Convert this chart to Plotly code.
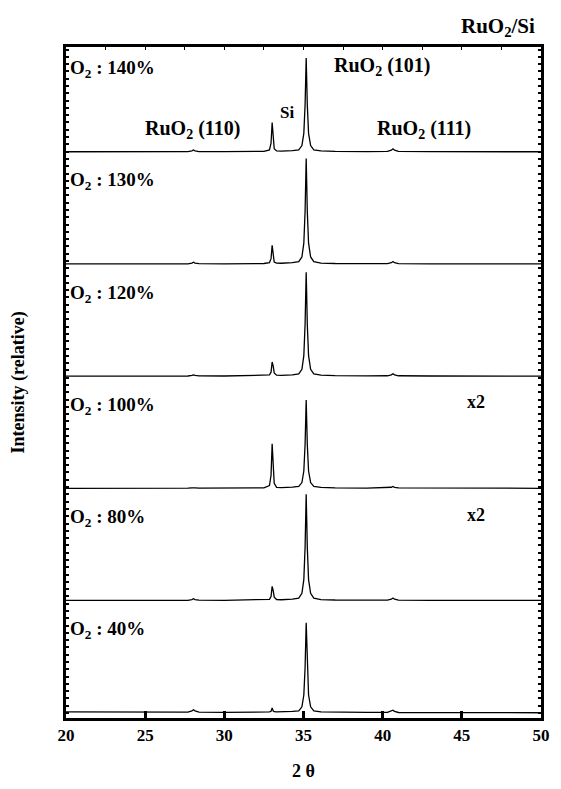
import plotly.graph_objects as go

# 2-theta sample points (shared by all patterns)
two_theta = [20.0, 22.0, 24.0, 26.0, 27.7, 27.95, 28.05, 28.15, 28.4, 30.0,
             32.5, 32.85, 32.95, 33.02, 33.09, 33.15, 33.3, 33.6, 34.3,
             34.7, 34.9, 35.02, 35.1, 35.17, 35.24, 35.32, 35.45, 35.65,
             36.1, 37.0, 39.0, 40.3, 40.55, 40.65, 40.75, 41.0, 43.0, 46.0, 48.0, 50.0]

labels = ["140%", "130%", "120%", "100%", "80%", "40%"]

int_140 = [0.004, 0.003, 0.004, 0.004, 0.005, 0.012, 0.020, 0.012, 0.006, 0.005,
           0.008, 0.021, 0.080, 0.265, 0.093, 0.032, 0.012, 0.010, 0.015,
           0.021, 0.059, 0.168, 0.420, 0.840, 0.420, 0.168, 0.059, 0.021,
           0.012, 0.008, 0.006, 0.007, 0.018, 0.030, 0.018, 0.007, 0.005, 0.004, 0.004, 0.004]
int_130 = [0.004, 0.003, 0.004, 0.004, 0.005, 0.012, 0.020, 0.012, 0.006, 0.005,
           0.008, 0.016, 0.051, 0.170, 0.060, 0.020, 0.012, 0.010, 0.015,
           0.024, 0.066, 0.189, 0.472, 0.944, 0.472, 0.189, 0.066, 0.024,
           0.012, 0.008, 0.006, 0.007, 0.015, 0.025, 0.015, 0.007, 0.005, 0.004, 0.004, 0.004]
int_120 = [0.004, 0.003, 0.004, 0.004, 0.005, 0.010, 0.015, 0.010, 0.006, 0.005,
           0.008, 0.014, 0.039, 0.130, 0.090, 0.033, 0.012, 0.010, 0.015,
           0.023, 0.065, 0.186, 0.465, 0.930, 0.465, 0.186, 0.065, 0.023,
           0.012, 0.008, 0.006, 0.007, 0.015, 0.025, 0.015, 0.007, 0.005, 0.004, 0.004, 0.004]
int_100 = [0.004, 0.003, 0.004, 0.004, 0.005, 0.008, 0.010, 0.008, 0.006, 0.005,
           0.008, 0.028, 0.120, 0.400, 0.140, 0.048, 0.012, 0.010, 0.015,
           0.020, 0.055, 0.158, 0.395, 0.790, 0.395, 0.158, 0.055, 0.020,
           0.012, 0.008, 0.006, 0.007, 0.013, 0.020, 0.013, 0.007, 0.005, 0.004, 0.004, 0.004]
int_80 = [0.004, 0.003, 0.004, 0.004, 0.005, 0.012, 0.020, 0.012, 0.006, 0.005,
          0.008, 0.014, 0.039, 0.130, 0.090, 0.033, 0.012, 0.010, 0.015,
          0.024, 0.067, 0.190, 0.475, 0.950, 0.475, 0.190, 0.067, 0.024,
          0.012, 0.008, 0.006, 0.007, 0.015, 0.025, 0.015, 0.007, 0.005, 0.004, 0.004, 0.004]
int_40 = [0.010, 0.009, 0.008, 0.008, 0.008, 0.020, 0.030, 0.020, 0.008, 0.007,
          0.008, 0.010, 0.016, 0.045, 0.018, 0.012, 0.010, 0.010, 0.015,
          0.020, 0.056, 0.161, 0.403, 0.805, 0.403, 0.161, 0.056, 0.020,
          0.010, 0.007, 0.006, 0.006, 0.015, 0.025, 0.015, 0.005, 0.004, 0.003, 0.003, 0.003]

series = [int_140, int_130, int_120, int_100, int_80, int_40]
scaled = ["", "", "", "x2", "x2", ""]

x_ticks = [20, 25, 30, 35, 40, 45, 50]

FONT = "Liberation Serif, Times New Roman, serif"

fig = go.Figure()
n = len(series)
for i, (lab, ys) in enumerate(zip(labels, series)):
    off = n - 1 - i
    fig.add_trace(go.Scatter(x=two_theta, y=[v + off for v in ys], mode="lines",
                             line=dict(color="black", width=1.3), showlegend=False,
                             hoverinfo="skip"))
    fig.add_annotation(x=20.1, y=off + 0.74, xanchor="left", yanchor="middle",
                       text="<b>O<sub>2</sub> : " + lab + "</b>", showarrow=False,
                       font=dict(family=FONT, size=19, color="black"))
    if scaled[i]:
        fig.add_annotation(x=45.9, y=off + 0.77, xanchor="center",
                           text="<b>" + scaled[i] + "</b>",
                           showarrow=False, font=dict(family=FONT, size=18, color="black"))

top = n - 1
peak_labels = [
    (27.98, top + 0.20, "<b>RuO<sub>2</sub> (110)</b>", 20),
    (33.95, top + 0.35, "<b>Si</b>", 17),
    (39.98, top + 0.76, "<b>RuO<sub>2</sub> (101)</b>", 20),
    (42.6, top + 0.20, "<b>RuO<sub>2</sub> (111)</b>", 20),
]
for px, py, t, s in peak_labels:
    fig.add_annotation(x=px, y=py, text=t, showarrow=False, xanchor="center",
                       font=dict(family=FONT, size=s, color="black"))

fig.add_annotation(xref="paper", yref="paper", x=0.992, y=1.03, xanchor="right",
                   yanchor="middle", text="<b>RuO<sub>2</sub>/Si</b>", showarrow=False,
                   font=dict(family=FONT, size=21, color="black"))
fig.add_annotation(xref="paper", yref="paper", x=-0.099, y=0.5, textangle=-90,
                   xanchor="center", yanchor="middle",
                   text="<b>Intensity (relative)</b>", showarrow=False,
                   font=dict(family=FONT, size=18, color="black"))

fig.update_layout(
    width=561, height=789,
    margin=dict(l=66, r=11, t=47, b=66),
    paper_bgcolor="white", plot_bgcolor="white",
    font=dict(family=FONT, color="black"),
    xaxis=dict(range=[20, 50], tickvals=x_ticks, ticktext=["<b>%d</b>" % v for v in x_ticks],
               ticks="inside", ticklen=7, tickwidth=3, tickcolor="black",
               showline=True, linewidth=3, linecolor="black", mirror=True,
               showgrid=False, zeroline=False,
               tickfont=dict(family=FONT, size=17, color="black"),
               title=dict(text="<b>2 θ</b>", font=dict(family=FONT, size=18, color="black"),
                          standoff=20)),
    xaxis2=dict(range=[20, 50], overlaying="x", side="top", dtick=2.5,
                ticks="inside", ticklen=3, tickwidth=1, tickcolor="black",
                showticklabels=False, showgrid=False, zeroline=False, showline=False),
    yaxis=dict(range=[-0.044, 5.938], dtick=0.065, tick0=0, ticks="inside", ticklen=3,
               tickwidth=1.5, tickcolor="black", showticklabels=False,
               showline=True, linewidth=3, linecolor="black", mirror="ticks",
               showgrid=False, zeroline=False),
)
# dummy trace to activate top axis ticks
fig.add_trace(go.Scatter(x=[20, 50], y=[None, None], xaxis="x2", showlegend=False,
                         hoverinfo="skip"))

fig.write_html("out.html")
